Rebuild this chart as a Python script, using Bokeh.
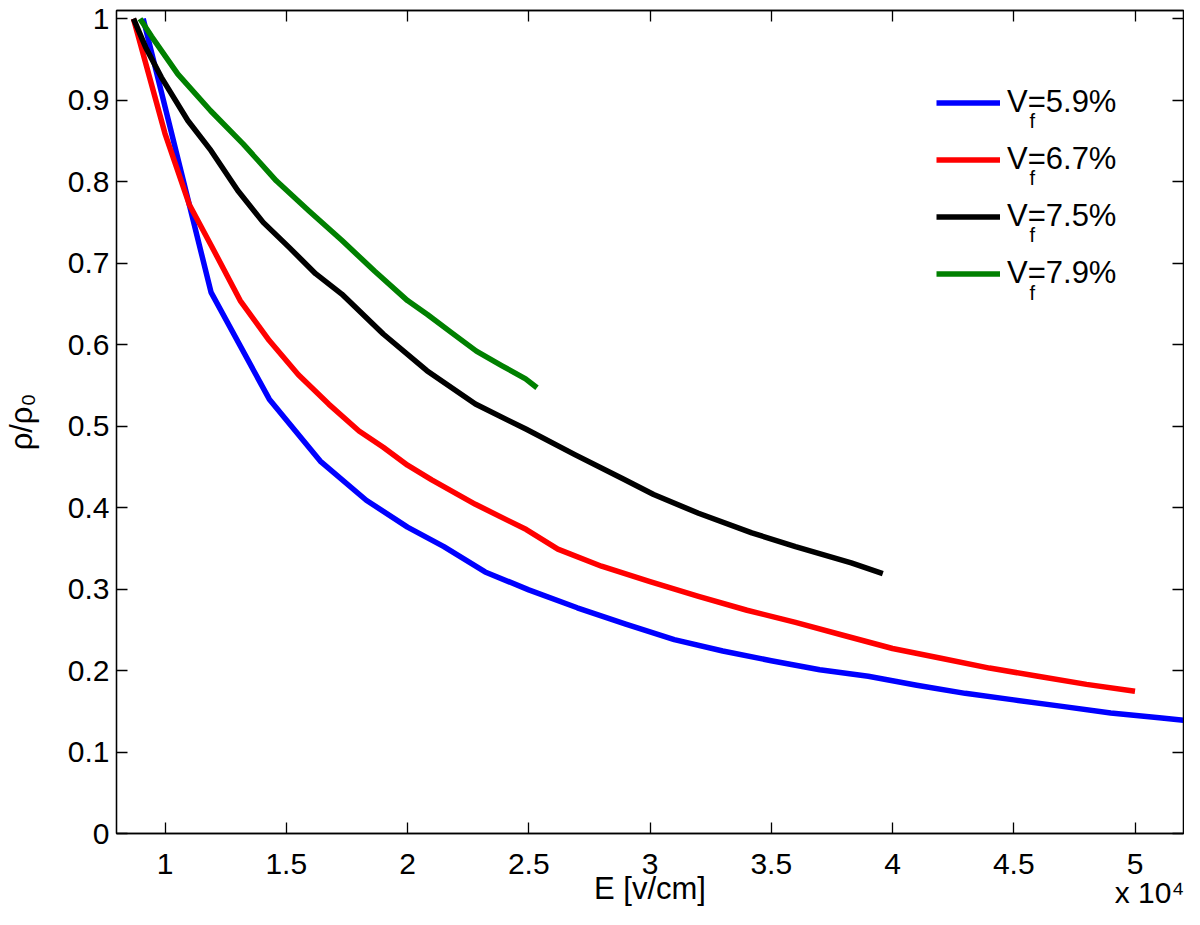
from bokeh.plotting import figure
from bokeh.models import (Range1d, FixedTicker, CustomJSTickFormatter, LinearAxis,
                          Legend, LegendItem, Label)
from bokeh.embed import file_html
from bokeh.resources import INLINE

# ---- data (E in V/cm, rho/rho0) ----
blue_E = [9100, 11900, 14300, 16400, 18300, 20000, 21500, 23200, 25000, 27000, 29000,
          31000, 33000, 35000, 37000, 39000, 41000, 43000, 45000, 47000, 49000, 51000, 52000]
blue_r = [1.0, 0.664, 0.533, 0.457, 0.409, 0.376, 0.352, 0.321, 0.299, 0.277, 0.257,
          0.238, 0.224, 0.212, 0.201, 0.193, 0.182, 0.172, 0.164, 0.156, 0.148, 0.142, 0.139]

red_E = [8700, 10000, 11000, 11900, 13100, 14300, 15500, 16750, 18000, 19000, 20000,
         21000, 22800, 24900, 26200, 28000, 30000, 32000, 34000, 36000, 38000, 40000,
         42000, 44000, 46000, 48000, 50000]
red_r = [1.0, 0.859, 0.772, 0.722, 0.654, 0.605, 0.563, 0.527, 0.494, 0.474, 0.452,
         0.434, 0.404, 0.373, 0.349, 0.328, 0.309, 0.291, 0.274, 0.259, 0.243, 0.227,
         0.215, 0.203, 0.193, 0.183, 0.1745]

black_E = [8700, 9200, 9850, 10940, 11900, 13000, 14050, 15130, 16210, 17290, 19000,
           20800, 22800, 24900, 26900, 28900, 30150, 32000, 34200, 36000, 38300, 39600]
black_r = [1.0, 0.965, 0.928, 0.875, 0.838, 0.789, 0.750, 0.719, 0.687, 0.662, 0.613,
           0.568, 0.527, 0.496, 0.465, 0.435, 0.416, 0.393, 0.369, 0.352, 0.332, 0.319]

green_E = [8970, 9450, 10530, 11880, 13230, 14590, 15940, 17290, 18650, 20000, 20820,
           21800, 22840, 23900, 24870, 25340]
green_r = [1.0, 0.978, 0.932, 0.887, 0.846, 0.801, 0.764, 0.728, 0.690, 0.654, 0.637,
           0.615, 0.592, 0.574, 0.558, 0.547]

series_labels = ["V=5.9%", "V=6.7%", "V=7.5%", "V=7.9%"]
x_ticks = [10000, 15000, 20000, 25000, 30000, 35000, 40000, 45000, 50000]
y_ticks = [0, 0.1, 0.2, 0.3, 0.4, 0.5, 0.6, 0.7, 0.8, 0.9, 1.0]

FONT = "Liberation Sans"
MULT_POS = 50600          # where the "x 10^4" multiplier text sits (layout only)

p = figure(width=1184, height=909, output_backend="svg", toolbar_location=None,
           x_range=Range1d(8000, 52000), y_range=Range1d(0, 1.01),
           min_border_left=116, min_border_right=1, min_border_top=10, min_border_bottom=76)
p.background_fill_color = "white"
p.border_fill_color = "white"
p.outline_line_color = "black"
p.outline_line_width = 1.3
p.xgrid.visible = False
p.ygrid.visible = False

yfmt = CustomJSTickFormatter(code="return String(Math.round(tick*10)/10);")
blankfmt = CustomJSTickFormatter(code="return '';")
xfmt = CustomJSTickFormatter(
    args=dict(mult=MULT_POS),
    code="if (tick == mult) { return '\\nx 10\u2074'; } return String(tick/10000);")

def style_axis(ax, ticks, fmt, standoff):
    ax.ticker = FixedTicker(ticks=ticks)
    ax.formatter = fmt
    ax.minor_tick_line_color = None
    ax.major_tick_in = 11
    ax.major_tick_out = 0
    ax.major_tick_line_color = "black"
    ax.major_tick_line_width = 1.3
    ax.axis_line_color = "black"
    ax.axis_line_width = 1.3
    ax.major_label_text_font = FONT
    ax.major_label_text_font_size = "30px"
    ax.major_label_text_color = "black"
    ax.major_label_standoff = standoff

# bottom: tick marks only (first), labels + title on a second axis below it
style_axis(p.xaxis[0], x_ticks, blankfmt, 0)
p.xaxis[0].major_label_text_font_size = "1px"

lab_ax = LinearAxis()
style_axis(lab_ax, x_ticks + [MULT_POS], xfmt, 13)
lab_ax.major_tick_in = 0
lab_ax.axis_line_color = None
lab_ax.major_tick_line_color = None
lab_ax.major_label_text_line_height = 0.9
lab_ax.axis_label = "E [v/cm]"
lab_ax.axis_label_text_font = FONT
lab_ax.axis_label_text_font_size = "31px"
lab_ax.axis_label_text_font_style = "normal"
lab_ax.axis_label_text_color = "black"
lab_ax.axis_label_standoff = -41
p.add_layout(lab_ax, "below")

style_axis(p.yaxis[0], y_ticks, yfmt, 7)
p.yaxis.axis_label = "ρ/ρ₀"
p.yaxis.axis_label_text_font = FONT
p.yaxis.axis_label_text_font_size = "31px"
p.yaxis.axis_label_text_font_style = "normal"
p.yaxis.axis_label_text_color = "black"
p.yaxis.axis_label_standoff = 26

top_ax = LinearAxis()
right_ax = LinearAxis()
style_axis(top_ax, x_ticks, blankfmt, 0)
style_axis(right_ax, y_ticks, blankfmt, 0)
for ax in (top_ax, right_ax):
    ax.major_label_text_font_size = "1px"
    ax.axis_label = None
p.add_layout(top_ax, "above")
p.add_layout(right_ax, "right")

rb = p.line(blue_E, blue_r, line_color="#0000ff", line_width=5.5, line_join="round")
rr = p.line(red_E, red_r, line_color="#ff0000", line_width=5.5, line_join="round")
rk = p.line(black_E, black_r, line_color="#000000", line_width=5.5, line_join="round")
rg = p.line(green_E, green_r, line_color="#008000", line_width=5.5, line_join="round")

legend = Legend(items=[LegendItem(label=series_labels[0], renderers=[rb]),
                       LegendItem(label=series_labels[1], renderers=[rr]),
                       LegendItem(label=series_labels[2], renderers=[rk]),
                       LegendItem(label=series_labels[3], renderers=[rg])],
                location=(820, 542), padding=0, margin=0, spacing=21,
                glyph_width=64, glyph_height=31, label_height=31, label_standoff=7,
                label_text_font=FONT, label_text_font_size="31px",
                label_text_color="black",
                border_line_alpha=0, background_fill_alpha=0)
p.add_layout(legend)

# subscript "f" of the legend labels (legend rows centred at these pixel rows)
for row_y in [101.7, 158.3, 215.7, 273.3]:
    p.add_layout(Label(x=913, y=833 - (row_y + 18.7), x_units="screen", y_units="screen",
                       text="f", text_font=FONT, text_font_size="20px",
                       text_baseline="middle", text_color="black"))

open("out.html", "w").write(file_html(p, INLINE))
